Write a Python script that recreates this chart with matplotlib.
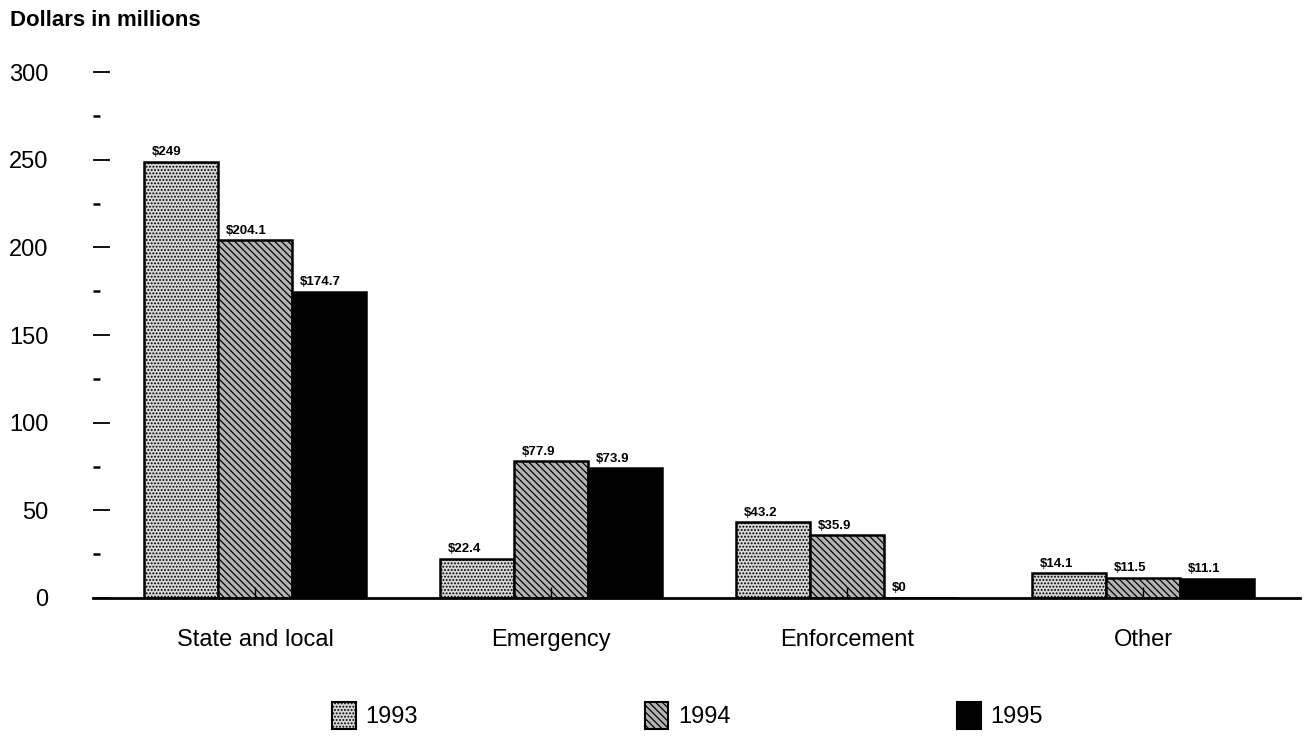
import matplotlib
matplotlib.use("Agg")
import matplotlib.pyplot as plt
import numpy as np
from matplotlib.patches import Patch
from matplotlib.ticker import MultipleLocator

categories = ["State and local", "Emergency", "Enforcement", "Other"]
years = ["1993", "1994", "1995"]
v1993 = [249, 22.4, 43.2, 14.1]
v1994 = [204.1, 77.9, 35.9, 11.5]
v1995 = [174.7, 73.9, 0, 11.1]
labels1993 = ["$249", "$22.4", "$43.2", "$14.1"]
labels1994 = ["$204.1", "$77.9", "$35.9", "$11.5"]
labels1995 = ["$174.7", "$73.9", "$0", "$11.1"]

plt.rcParams["font.family"] = ["Liberation Sans", "DejaVu Sans"]
plt.rcParams["hatch.linewidth"] = 0.9

fig = plt.figure(figsize=(13.07, 7.36), dpi=100)
ax = fig.add_axes([0.0712, 0.1875, 0.9234, 0.7145])

x = np.arange(len(categories))
w = 0.25
styles = [
    dict(facecolor="#d6d6d6", hatch=".....", edgecolor="black"),
    dict(facecolor="#b4b4b4", hatch="\\\\\\\\\\", edgecolor="black"),
    dict(facecolor="black", hatch=None, edgecolor="black"),
]
series = [v1993, v1994, v1995]
texts = [labels1993, labels1994, labels1995]

handles = []
for i, (vals, st, labs) in enumerate(zip(series, styles, texts)):
    pos = x + (i - 1) * w
    ax.bar(pos, vals, width=w, linewidth=1.8, **st)
    for p, v, t in zip(pos, vals, labs):
        ax.text(p - w / 2 + 0.025, v + 2, t, fontsize=9.5, fontweight="bold",
                ha="left", va="bottom")
    handles.append(Patch(linewidth=1.5, **st))

ax.set_xlim(-0.547, 3.53)
ax.set_ylim(0, 300)

for s in ["top", "right", "left"]:
    ax.spines[s].set_visible(False)
ax.spines["bottom"].set_linewidth(2)

ax.yaxis.set_major_locator(MultipleLocator(50))
ax.yaxis.set_minor_locator(MultipleLocator(25))
ax.tick_params(axis="y", which="major", direction="in", length=12, width=1.3,
               pad=32, labelsize=17)
ax.tick_params(axis="y", which="minor", direction="in", length=5, width=1.8)

ax.set_xticks(x)
ax.set_xticklabels(categories)
ax.tick_params(axis="x", direction="in", length=8, width=1, pad=22, labelsize=17)

fig.text(0.008, 0.972, "Dollars in millions", fontsize=16, fontweight="bold",
         ha="left", va="center")

fig.legend(handles, years, loc="center", bbox_to_anchor=(0.526, 0.028),
           ncol=3, frameon=False, fontsize=17, handlelength=1.0,
           handleheight=1.4, handletextpad=0.4, columnspacing=9.6)

fig.savefig("out.png", dpi=100)
